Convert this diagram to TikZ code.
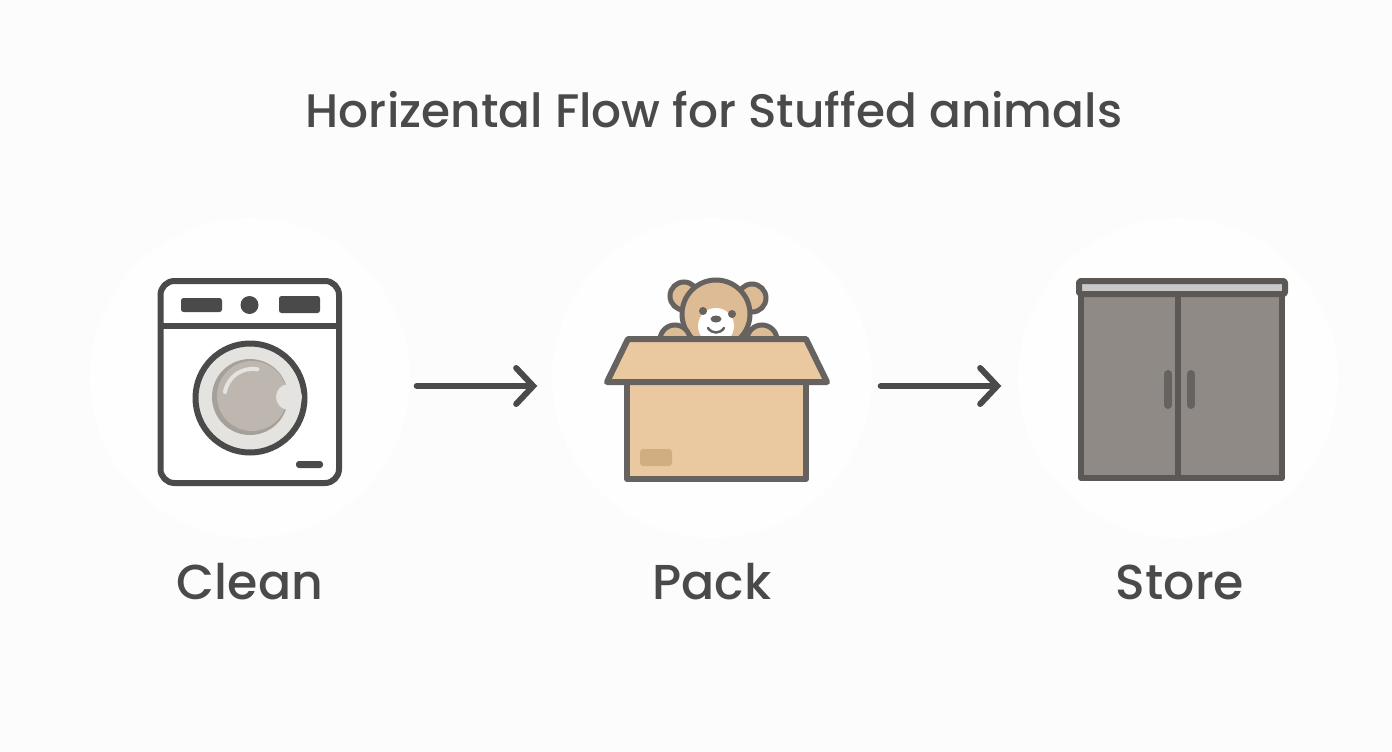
\documentclass[tikz,border=0pt]{standalone}
\usepackage{xcolor}
\usepackage{fontspec}
\setmainfont{Poppins}[UprightFont=* Medium]
\usetikzlibrary{arrows.meta}
\definecolor{pagegrey}{HTML}{FCFCFC}
\definecolor{halowhite}{HTML}{FEFEFE}
\definecolor{inkgrey}{HTML}{4A4A4A}
\definecolor{boxedge}{HTML}{666260}
\definecolor{boxtan}{HTML}{EBC9A0}
\definecolor{beartan}{HTML}{DDBB95}
\definecolor{tagtan}{HTML}{D2AD82}
\definecolor{doorgrey}{HTML}{8F8A86}
\definecolor{rimgrey}{HTML}{E5E3E0}
\definecolor{drumgrey}{HTML}{BDB7B0}
\definecolor{drumedge}{HTML}{A5A09A}
\definecolor{shelfgrey}{HTML}{C9C9C9}

\begin{document}
\begin{tikzpicture}[x=1pt,y=-1pt]
            \tikzset{
                halo/.style={circle, fill=halowhite, minimum size=320pt, inner sep=0pt},
                spot/.style={circle, inner sep=0pt, minimum size=1pt},
                caption/.style={text=inkgrey, font=\fontsize{49}{58}\selectfont},
                flow/.style={draw=inkgrey, line width=6pt, line cap=round, -{Straight Barb[length=17pt,width=36pt,line cap=round]}},
                ink/.style={draw=inkgrey, line width=6pt, line join=round},
                knob/.style={fill=inkgrey, rounded corners=2.5pt},
                carton/.style={draw=boxedge, line width=6pt, line join=round, fill=boxtan},
                plush/.style={draw=boxedge, line width=5pt, fill=beartan},
                cabinet/.style={draw=boxedge!90!black, line width=6pt, line join=round, fill=doorgrey}
            }
            \fill[pagegrey] (0,0) rectangle (1392,752);
            \node[halo] (cleanhalo) at (250,378) {};
            \node[halo] (packhalo) at (712,378) {};
            \node[halo] (storehalo) at (1178,378) {};

            \node[caption, font=\fontsize{47}{56}\selectfont] (title) at (714,110) {Horizental Flow for Stuffed animals};

            % washer
            \draw[ink, fill=white, rounded corners=14pt] (160.5,281) rectangle (339,483);
            \draw[ink] (160.5,326) -- (339,326);
            \fill[knob] (181,298) rectangle (222,312);
            \fill[inkgrey] (249.5,305) circle (9);
            \fill[knob] (279,296) rectangle (320,313);
            \fill[inkgrey, rounded corners=3pt] (296,461) rectangle (323,468);
            \draw[ink, fill=rimgrey] (250,398) circle (54.5);
            \fill[drumedge] (250,397) circle (38);
            \fill[drumgrey] (252,396) circle (35);
            \draw[rimgrey, line width=4pt, line cap=round] (225,392) arc (190:280:28);
            \fill[rimgrey] (289,397) circle (13);

            % bear in the box
            \draw[plush] (684,296) circle (14);
            \draw[plush] (752,298) circle (14);
            \draw[plush] (716,314) circle (34);
            \fill[white] (716,326) circle (18);
            \fill[boxedge] (703,311) circle (4);
            \fill[boxedge] (732,314) circle (4);
            \fill[boxedge] (716,319) ellipse (5.5 and 3.5);
            \draw[boxedge, line width=2.5pt, line cap=round] (708,328) .. controls (712,334) and (720,334) .. (724,328);
            \draw[plush] (675,340) circle (15);
            \draw[plush] (762,340) circle (15);
            \draw[carton] (627,382) rectangle (806,479);
            \fill[tagtan, rounded corners=3pt] (640,449) rectangle (672,466);
            \draw[carton] (628,339) -- (806,339) -- (827,382) -- (607,382) -- cycle;

            % cabinet
            \draw[cabinet] (1081,294) rectangle (1282,478);
            \draw[cabinet] (1178,294) -- (1178,478);
            \draw[cabinet, fill=shelfgrey, rounded corners=2pt] (1079,281) rectangle (1285,294);
            \draw[boxedge, line width=8pt, line cap=round] (1168,374) -- (1168,405);
            \draw[boxedge, line width=8pt, line cap=round] (1191,374) -- (1191,405);

            \node[spot] (clean) at (250,386) {};
            \node[spot] (pack) at (712,386) {};
            \node[spot] (store) at (1178,386) {};
            \draw[flow, shorten <=166pt, shorten >=174pt] (clean) -- (pack);
            \draw[flow, shorten <=168pt, shorten >=176pt] (pack) -- (store);

            \node[caption] (cleanlabel) at (250,582) {Clean};
            \node[caption] (packlabel) at (712,582) {Pack};
            \node[caption] (storelabel) at (1180,582) {Store};
        \end{tikzpicture}
\end{document}
